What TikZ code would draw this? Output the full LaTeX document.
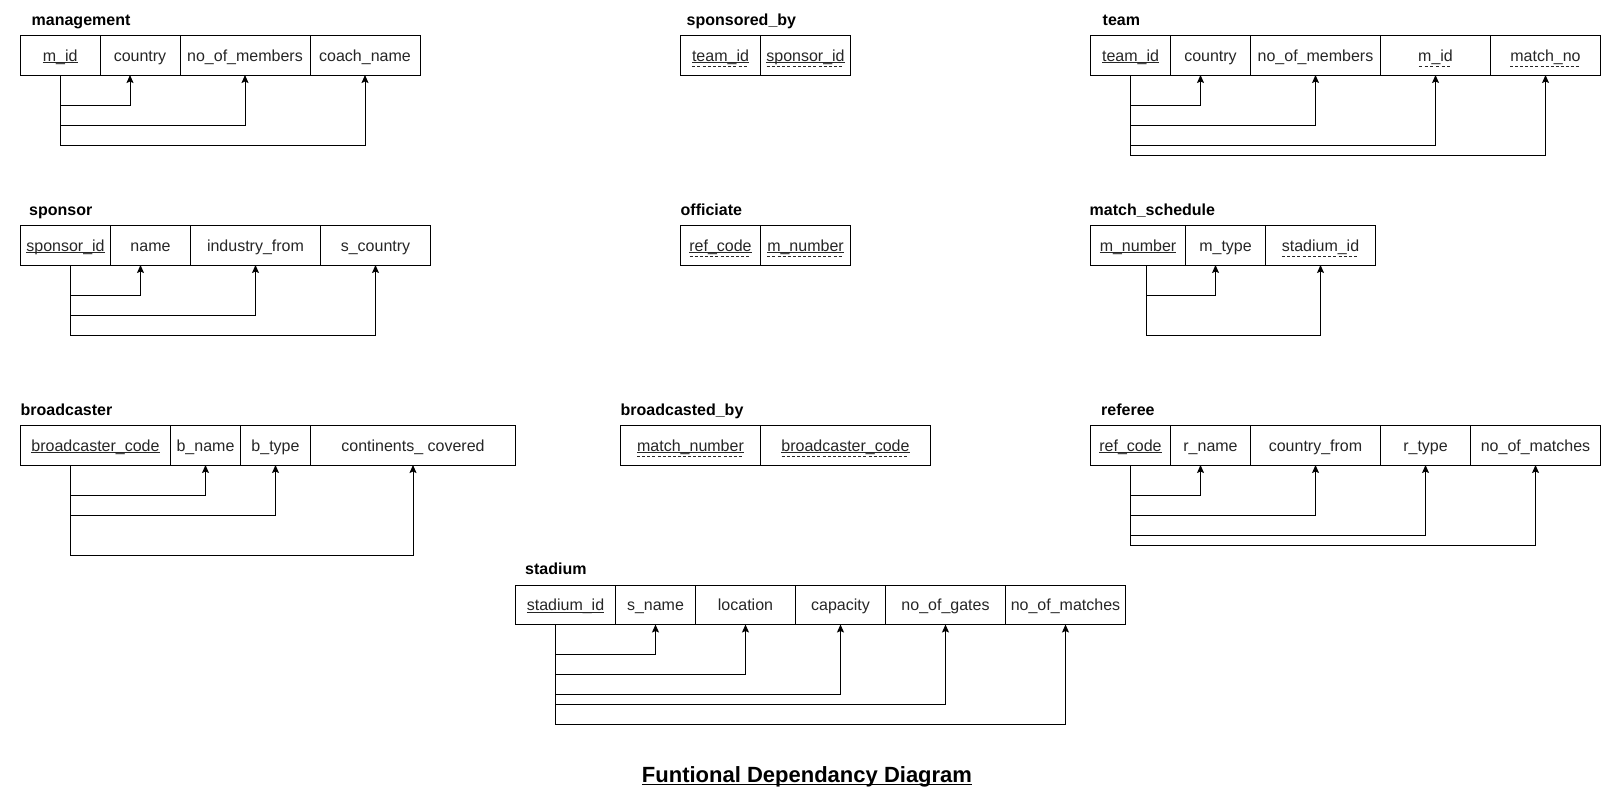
\documentclass[tikz,border=0pt]{standalone}
\usepackage{fontspec}
\setmainfont{Liberation Sans}
\usetikzlibrary{arrows.meta}
\newsavebox\pkbox
\newsavebox\fkbox
\newsavebox\ttlbox
\newcommand\pkul[1]{\sbox\pkbox{#1}\rlap{\rule[-2.2pt]{\wd\pkbox}{1pt}}\usebox\pkbox}
\newcommand\fkul[1]{\sbox\fkbox{#1}\rlap{\raisebox{-5.5pt}{\hbox to \wd\fkbox{\xleaders\hbox to 5pt{\rule{3pt}{1pt}\hss}\hfill}}}\usebox\fkbox}
\newcommand\mainul[1]{\sbox\ttlbox{#1}\rlap{\rule[-3pt]{\wd\ttlbox}{1.5pt}}\usebox\ttlbox}
\begin{document}
\begin{tikzpicture}[x=1pt,y=-1pt,
  cell/.style={draw, line width=1pt, minimum height=39.5pt, inner sep=0pt, outer sep=0pt,
    anchor=north west, text height=12pt, text depth=0pt, text=black!85, font=\fontsize{16}{19}\selectfont},
  ttl/.style={anchor=base west, inner sep=0pt, font=\bfseries\fontsize{16}{19}\selectfont},
  fd/.style={line width=1pt, -{Stealth[length=8pt,width=7pt,inset=1.5pt]}}]
\fill[white] (0,0) rectangle (1606,801);
\useasboundingbox (0,0) rectangle (1606,801);

% ---------- management ----------
\node[ttl] (tmg) at (31.5,25) {management};
\node[cell, minimum width=79.5pt] (mg1) at (20.5,35.5) {\pkul{m\_id}};
\node[cell, minimum width=80pt] (mg2) at (100,35.5) {country};
\node[cell, minimum width=130pt] (mg3) at (180,35.5) {no\_of\_members};
\node[cell, minimum width=110pt] (mg4) at (310,35.5) {coach\_name};
\draw[fd] (mg1.south) -- ++(0,30) -| ([xshift=-10pt]mg2.south);
\draw[fd] (mg1.south) -- ++(0,50) -| (mg3.south);
\draw[fd] (mg1.south) -- ++(0,70) -| (mg4.south);

% ---------- sponsored_by ----------
\node[ttl] (tsb) at (686.5,25) {sponsored\_by};
\node[cell, minimum width=80pt] (sb1) at (680.5,35.5) {\fkul{\pkul{team\_id}}};
\node[cell, minimum width=90pt] (sb2) at (760.5,35.5) {\fkul{\pkul{sponsor\_id}}};

% ---------- team ----------
\node[ttl] (ttm) at (1102.5,25) {team};
\node[cell, minimum width=80pt] (tm1) at (1090.5,35.5) {\pkul{team\_id}};
\node[cell, minimum width=80pt] (tm2) at (1170.5,35.5) {country};
\node[cell, minimum width=130pt] (tm3) at (1250.5,35.5) {no\_of\_members};
\node[cell, minimum width=110pt] (tm4) at (1380.5,35.5) {\fkul{m\_id}};
\node[cell, minimum width=110pt] (tm5) at (1490.5,35.5) {\fkul{match\_no}};
\draw[fd] (tm1.south) -- ++(0,30) -| ([xshift=-10pt]tm2.south);
\draw[fd] (tm1.south) -- ++(0,50) -| (tm3.south);
\draw[fd] (tm1.south) -- ++(0,70) -| (tm4.south);
\draw[fd] (tm1.south) -- ++(0,80) -| (tm5.south);

% ---------- sponsor ----------
\node[ttl] (tsp) at (29,215) {sponsor};
\node[cell, minimum width=90pt] (sp1) at (20.5,225.5) {\pkul{sponsor\_id}};
\node[cell, minimum width=80pt] (sp2) at (110.5,225.5) {name};
\node[cell, minimum width=130pt] (sp3) at (190.5,225.5) {industry\_from};
\node[cell, minimum width=110pt] (sp4) at (320.5,225.5) {s\_country};
\draw[fd] ([xshift=5pt]sp1.south) -- ++(0,30) -| ([xshift=-10pt]sp2.south);
\draw[fd] ([xshift=5pt]sp1.south) -- ++(0,50) -| (sp3.south);
\draw[fd] ([xshift=5pt]sp1.south) -- ++(0,70) -| (sp4.south);

% ---------- officiate ----------
\node[ttl] (tof) at (680.5,215) {officiate};
\node[cell, minimum width=80pt] (of1) at (680.5,225.5) {\fkul{\pkul{ref\_code}}};
\node[cell, minimum width=90pt] (of2) at (760.5,225.5) {\fkul{\pkul{m\_number}}};

% ---------- match_schedule ----------
\node[ttl] (tms) at (1089.5,215) {match\_schedule};
\node[cell, minimum width=95pt] (ms1) at (1090.5,225.5) {\pkul{m\_number}};
\node[cell, minimum width=80pt] (ms2) at (1185.5,225.5) {m\_type};
\node[cell, minimum width=110pt] (ms3) at (1265.5,225.5) {\fkul{stadium\_id}};
\draw[fd] ([xshift=8pt]ms1.south) -- ++(0,30) -| ([xshift=-10pt]ms2.south);
\draw[fd] ([xshift=8pt]ms1.south) -- ++(0,70) -| (ms3.south);

% ---------- broadcaster ----------
\node[ttl] (tbc) at (20.5,415) {broadcaster};
\node[cell, minimum width=150pt] (bc1) at (20.5,425.5) {\pkul{broadcaster\_code}};
\node[cell, minimum width=70pt] (bc2) at (170.5,425.5) {b\_name};
\node[cell, minimum width=70pt] (bc3) at (240.5,425.5) {b\_type};
\node[cell, minimum width=205pt] (bc4) at (310.5,425.5) {continents\_ covered};
\draw[fd] ([xshift=-25pt]bc1.south) -- ++(0,30) -| (bc2.south);
\draw[fd] ([xshift=-25pt]bc1.south) -- ++(0,50) -| (bc3.south);
\draw[fd] ([xshift=-25pt]bc1.south) -- ++(0,90) -| (bc4.south);

% ---------- broadcasted_by ----------
\node[ttl] (tbb) at (620.5,415) {broadcasted\_by};
\node[cell, minimum width=140pt] (bb1) at (620.5,425.5) {\fkul{\pkul{match\_number}}};
\node[cell, minimum width=170pt] (bb2) at (760.5,425.5) {\fkul{\pkul{broadcaster\_code}}};

% ---------- referee ----------
\node[ttl] (trf) at (1101,415) {referee};
\node[cell, minimum width=80pt] (rf1) at (1090.5,425.5) {\pkul{ref\_code}};
\node[cell, minimum width=80pt] (rf2) at (1170.5,425.5) {r\_name};
\node[cell, minimum width=130pt] (rf3) at (1250.5,425.5) {country\_from};
\node[cell, minimum width=90pt] (rf4) at (1380.5,425.5) {r\_type};
\node[cell, minimum width=130pt] (rf5) at (1470.5,425.5) {no\_of\_matches};
\draw[fd] (rf1.south) -- ++(0,30) -| ([xshift=-10pt]rf2.south);
\draw[fd] (rf1.south) -- ++(0,50) -| (rf3.south);
\draw[fd] (rf1.south) -- ++(0,70) -| (rf4.south);
\draw[fd] (rf1.south) -- ++(0,80) -| (rf5.south);

% ---------- stadium ----------
\node[ttl] (tst) at (525,574.5) {stadium};
\node[cell, minimum width=100pt] (st1) at (515.5,585) {\pkul{stadium\_id}};
\node[cell, minimum width=80pt] (st2) at (615.5,585) {s\_name};
\node[cell, minimum width=100pt] (st3) at (695.5,585) {location};
\node[cell, minimum width=90pt] (st4) at (795.5,585) {capacity};
\node[cell, minimum width=120pt] (st5) at (885.5,585) {no\_of\_gates};
\node[cell, minimum width=120pt] (st6) at (1005.5,585) {no\_of\_matches};
\draw[fd] ([xshift=-10pt]st1.south) -- ++(0,30) -| (st2.south);
\draw[fd] ([xshift=-10pt]st1.south) -- ++(0,50) -| (st3.south);
\draw[fd] ([xshift=-10pt]st1.south) -- ++(0,70) -| (st4.south);
\draw[fd] ([xshift=-10pt]st1.south) -- ++(0,80) -| (st5.south);
\draw[fd] ([xshift=-10pt]st1.south) -- ++(0,100) -| (st6.south);

% ---------- caption ----------
\node[anchor=base, inner sep=0pt, font=\bfseries\fontsize{22}{26}\selectfont] (cap) at (807,782)
  {\mainul{Funtional Dependancy Diagram}};
\end{tikzpicture}
\end{document}
